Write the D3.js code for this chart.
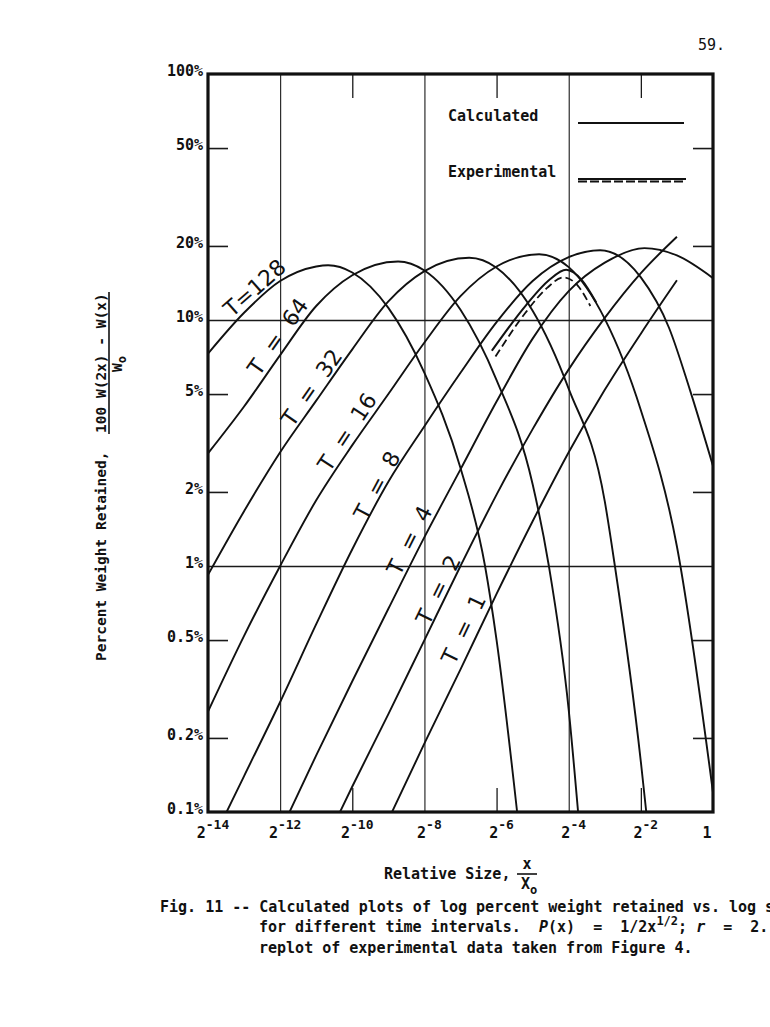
<!DOCTYPE html>
<html>
<head>
<meta charset="utf-8">
<script src="https://cdnjs.cloudflare.com/ajax/libs/d3/7.8.5/d3.min.js"></script>
<style>
  html, body { margin: 0; padding: 0; background: #fff; }
  svg { display: block; }
  .mono { font-family: 'DejaVu Sans Mono', monospace; font-weight: bold; fill: #111; }
  .plain { font-family: 'DejaVu Sans Mono', monospace; fill: #111; }
  .curve { fill: none; stroke: #111; stroke-width: 1.9; }
  .tlabel { font-family: 'DejaVu Sans', sans-serif; font-size: 22px; fill: #111; }
</style>
</head>
<body>
<div id="chart"></div>
<script>
// x values are powers of two (exponent of x/Xo), y values are percent retained
const t128Exp = [-14, -13, -12, -11, -10.67, -10, -9, -8, -7, -6.32, -6, -5.43];
const t128Pct = [7.3, 10.7, 14.4, 16.5, 16.7, 15.6, 11.2, 6.1, 2.5, 1.0, 0.5, 0.1];

const t64Exp = [-14, -13, -12, -11, -10, -8.73, -8, -7, -6, -5, -4.55, -4, -3.74];
const t64Pct = [2.87, 4.45, 7.2, 11.4, 15.2, 17.3, 15.9, 11.0, 5.7, 2.15, 1.0, 0.26, 0.1];

const t32Exp = [-14, -13, -12, -11, -10, -9, -8, -6.76, -6, -5, -4, -3, -2.72, -2, -1.85];
const t32Pct = [0.92, 1.67, 2.9, 4.7, 7.6, 11.9, 15.8, 17.9, 16.3, 10.9, 5.25, 1.83, 1.0, 0.16, 0.1];

const t16Exp = [-14, -13, -12, -11, -10, -9, -8, -7, -6, -4.82, -4, -3, -2, -1, 0];
const t16Pct = [0.256, 0.52, 1.0, 1.85, 3.1, 5.0, 8.1, 12.5, 16.5, 18.5, 16.4, 10.1, 4.3, 1.2, 0.12];

const t8Exp = [-14, -13, -12, -11, -10, -9, -8, -7, -6, -5, -4, -3.13, -2, -1.22, -0.64, 0];
const t8Pct = [0.07, 0.14, 0.28, 0.58, 1.17, 2.2, 3.7, 6.1, 9.8, 14.4, 18.0, 19.2, 14.9, 9.3, 5.2, 2.55];

const t4Exp = [-12, -11, -10, -9, -8, -7, -6, -5, -4, -3, -1.9, -1, 0];
const t4Pct = [0.083, 0.17, 0.34, 0.67, 1.31, 2.47, 4.66, 8.4, 13.1, 17.1, 19.6, 18.3, 14.8];

const t2Exp = [-11, -10, -9, -8, -7, -6, -5, -4, -3, -2, -1];
const t2Pct = [0.063, 0.127, 0.25, 0.5, 1.0, 1.95, 3.6, 6.3, 10.2, 15.5, 21.8];

const t1Exp = [-9, -8, -7, -6, -5, -4, -3, -2, -1];
const t1Pct = [0.093, 0.19, 0.38, 0.77, 1.52, 2.9, 5.2, 8.8, 14.5];

// experimental replot (outer solid trace and inner dashed trace)
const expSolidExp = [-6.13, -5.18, -4.55, -4.07, -3.63, -3.24];
const expSolidPct = [7.5, 11.5, 14.5, 16.0, 14.5, 11.8];
const expDashExp = [-6.03, -5.2, -4.6, -4.15, -3.75, -3.4];
const expDashPct = [7.1, 10.7, 13.5, 14.9, 13.8, 11.4];

// curve labels, anchored in data units
const curveNames = ['T=128', 'T  =  64', 'T  =  32', 'T  =  16', 'T  =  8', 'T  =  4', 'T  =  2', 'T  =  1'];
const labelExp = [-12.7, -12.06, -11.12, -10.14, -9.31, -8.41, -7.61, -6.91];
const labelPct = [13.5, 8.55, 5.3, 3.5, 2.12, 1.27, 0.80, 0.553];

// axes
const xGridExp = [-12, -8, -4];
const xMinorExp = [-10, -6, -2];
const xLabelExp = [-14, -12, -10, -8, -6, -4, -2, 0];
const yTickPct = [100, 50, 20, 10, 5, 2, 1, 0.5, 0.2, 0.1];
const yTickText = ['100%', '50%', '20%', '10%', '5%', '2%', '1%', '0.5%', '0.2%', '0.1%'];
const yMinorPct = [50, 20, 5, 2, 0.5, 0.2];
const yGridPct = [10, 1];

const W = 770, H = 1027;
const plot = { left: 208, right: 713, top: 74, bottom: 812 };
const plotW = plot.right - plot.left;
const plotH = plot.bottom - plot.top;

const svg = d3.select('#chart').append('svg').attr('width', W).attr('height', H);

const x = d3.scaleLog().base(2).domain([Math.pow(2, -14), 1]).range([plot.left, plot.right]);
const y = d3.scaleLog().domain([0.1, 100]).range([plot.bottom, plot.top]);
const px = e => x(Math.pow(2, e));

svg.append('defs').append('clipPath').attr('id', 'clip')
  .append('rect')
  .attr('x', plot.left).attr('y', plot.top)
  .attr('width', plotW).attr('height', plotH);

function styleAxis(g, w) {
  g.select('.domain').remove();
  g.selectAll('line').attr('stroke', '#1a1a1a').attr('stroke-width', w);
}

// vertical grid lines
svg.append('g')
  .attr('transform', `translate(0,${plot.bottom})`)
  .call(d3.axisBottom(x).tickValues(xGridExp.map(e => Math.pow(2, e))).tickSize(-plotH).tickFormat(''))
  .call(g => styleAxis(g, 1.1));

// horizontal grid lines at 10% and 1%
svg.append('g')
  .attr('transform', `translate(${plot.left},0)`)
  .call(d3.axisLeft(y).tickValues(yGridPct).tickSize(-plotW).tickFormat(''))
  .call(g => styleAxis(g, 1.4));

// short inner ticks
svg.append('g')
  .attr('transform', `translate(0,${plot.bottom})`)
  .call(d3.axisBottom(x).tickValues(xMinorExp.map(e => Math.pow(2, e))).tickSize(-24).tickFormat(''))
  .call(g => styleAxis(g, 1.3));
svg.append('g')
  .attr('transform', `translate(0,${plot.top})`)
  .call(d3.axisTop(x).tickValues(xMinorExp.map(e => Math.pow(2, e))).tickSize(-24).tickFormat(''))
  .call(g => styleAxis(g, 1.3));
svg.append('g')
  .attr('transform', `translate(${plot.left},0)`)
  .call(d3.axisLeft(y).tickValues(yMinorPct).tickSize(-20).tickFormat(''))
  .call(g => styleAxis(g, 1.6));
svg.append('g')
  .attr('transform', `translate(${plot.right},0)`)
  .call(d3.axisRight(y).tickValues(yMinorPct).tickSize(-20).tickFormat(''))
  .call(g => styleAxis(g, 1.6));

// calculated curves
const series = [
  [t128Exp, t128Pct], [t64Exp, t64Pct], [t32Exp, t32Pct], [t16Exp, t16Pct],
  [t8Exp, t8Pct], [t4Exp, t4Pct], [t2Exp, t2Pct], [t1Exp, t1Pct]
].map(([ex, pc]) => ex.map((e, i) => [e, pc[i]]));

const line = d3.line()
  .x(d => px(d[0]))
  .y(d => y(d[1]))
  .curve(d3.curveMonotoneX);

const curves = svg.append('g').attr('clip-path', 'url(#clip)');
curves.selectAll('.curve')
  .data(series)
  .enter()
  .append('path')
  .attr('class', 'curve')
  .attr('d', line);

// experimental replot
const expSolid = expSolidExp.map((e, i) => [e, expSolidPct[i]]);
const expDash = expDashExp.map((e, i) => [e, expDashPct[i]]);
curves.append('path').attr('d', line(expSolid))
  .attr('fill', 'none').attr('stroke', '#111').attr('stroke-width', 2);
curves.append('path').attr('d', line(expDash))
  .attr('fill', 'none').attr('stroke', '#111').attr('stroke-width', 1.8)
  .attr('stroke-dasharray', '8,4');

// curve labels, turned to follow the local slope of their curve
function slopeAngle(pts, e) {
  let i = pts.findIndex(p => p[0] > e);
  if (i < 1) i = 1;
  const a = pts[i - 1], b = pts[i];
  return Math.atan2(y(b[1]) - y(a[1]), px(b[0]) - px(a[0])) * 180 / Math.PI;
}
svg.append('g').selectAll('text')
  .data(curveNames)
  .enter()
  .append('text')
  .attr('class', 'tlabel')
  .attr('xml:space', 'preserve')
  .attr('text-anchor', 'middle')
  .attr('dominant-baseline', 'central')
  .attr('transform', (d, i) => {
    const ang = slopeAngle(series[i], labelExp[i]);
    return `translate(${px(labelExp[i])},${y(labelPct[i])}) rotate(${ang})`;
  })
  .text(d => d);

// frame
svg.append('rect')
  .attr('x', plot.left).attr('y', plot.top)
  .attr('width', plotW).attr('height', plotH)
  .attr('fill', 'none').attr('stroke', '#111').attr('stroke-width', 3.2);

// y tick labels
svg.append('g').selectAll('text')
  .data(yTickPct)
  .enter()
  .append('text')
  .attr('class', 'mono')
  .attr('font-size', 15)
  .attr('text-anchor', 'end')
  .attr('x', plot.left - 5)
  .attr('y', d => y(d) + 2)
  .text((d, i) => yTickText[i]);

// x tick labels (2 with superscript exponent)
const xl = svg.append('g').selectAll('text')
  .data(xLabelExp)
  .enter()
  .append('text')
  .attr('class', 'mono')
  .attr('font-size', 15)
  .attr('text-anchor', 'middle')
  .attr('x', d => px(d) + (d === 0 ? -6 : 5))
  .attr('y', plot.bottom + 26);
xl.append('tspan').text(d => d === 0 ? '1' : '2');
xl.filter(d => d !== 0).append('tspan')
  .attr('font-size', 13).attr('dy', -9)
  .text(d => '-' + Math.abs(d));

// x axis title
const xt = svg.append('g');
xt.append('text').attr('class', 'mono').attr('font-size', 15)
  .attr('x', 384).attr('y', 879).text('Relative Size,');
xt.append('text').attr('class', 'mono').attr('font-size', 15)
  .attr('text-anchor', 'middle').attr('x', 527).attr('y', 869).text('x');
xt.append('line').attr('x1', 517).attr('x2', 537).attr('y1', 874).attr('y2', 874)
  .attr('stroke', '#111').attr('stroke-width', 1.6);
const xo = xt.append('text').attr('class', 'mono').attr('font-size', 15)
  .attr('x', 521).attr('y', 889);
xo.append('tspan').text('X');
xo.append('tspan').attr('font-size', 12).attr('dy', 5).text('o');

// y axis title (rotated)
const yt = svg.append('g').attr('transform', 'translate(106,0) rotate(-90)');
yt.append('text').attr('class', 'mono').attr('font-size', 14.5)
  .attr('x', -661).attr('y', 0).text('Percent Weight Retained,');
yt.append('text').attr('class', 'mono').attr('font-size', 14.5)
  .attr('x', -433).attr('y', 0).text('100 W(2x) - W(x)');
yt.append('line').attr('x1', -434).attr('x2', -292).attr('y1', 3).attr('y2', 3)
  .attr('stroke', '#111').attr('stroke-width', 1.6);
const wo = yt.append('text').attr('class', 'mono').attr('font-size', 14.5)
  .attr('text-anchor', 'middle').attr('x', -364).attr('y', 16);
wo.append('tspan').text('W');
wo.append('tspan').attr('font-size', 12).attr('dy', 4).text('o');

// legend
const lg = svg.append('g');
lg.append('text').attr('class', 'mono').attr('font-size', 15)
  .attr('x', 448).attr('y', 121).text('Calculated');
lg.append('line').attr('x1', 578).attr('x2', 684).attr('y1', 123).attr('y2', 123)
  .attr('stroke', '#111').attr('stroke-width', 2);
lg.append('text').attr('class', 'mono').attr('font-size', 15)
  .attr('x', 448).attr('y', 177).text('Experimental');
lg.append('line').attr('x1', 578).attr('x2', 686).attr('y1', 179).attr('y2', 179)
  .attr('stroke', '#111').attr('stroke-width', 2.2);
lg.append('line').attr('x1', 578).attr('x2', 686).attr('y1', 181.5).attr('y2', 181.5)
  .attr('stroke', '#111').attr('stroke-width', 2.2).attr('stroke-dasharray', '9,3');

// page number
svg.append('text').attr('class', 'plain').attr('font-size', 15)
  .attr('x', 698).attr('y', 50).text('59.');

// caption (runs past the right edge, as on the scanned page)
const cap = svg.append('g').attr('class', 'mono').attr('font-size', 15);
cap.append('text').attr('x', 160).attr('y', 912)
  .text('Fig. 11 -- Calculated plots of log percent weight retained vs. log s');
const c2 = cap.append('text').attr('xml:space', 'preserve').attr('x', 259).attr('y', 932);
c2.append('tspan').text('for different time intervals.  ');
c2.append('tspan').attr('font-style', 'italic').text('P');
c2.append('tspan').text('(x)  =  1/2x');
c2.append('tspan').attr('font-size', 12).attr('dy', -7).text('1/2');
c2.append('tspan').attr('dy', 7).text('; ');
c2.append('tspan').attr('font-style', 'italic').text('r');
c2.append('tspan').text('  =  2. N');
cap.append('text').attr('x', 259).attr('y', 953)
  .text('replot of experimental data taken from Figure 4.');
</script>
</body>
</html>
